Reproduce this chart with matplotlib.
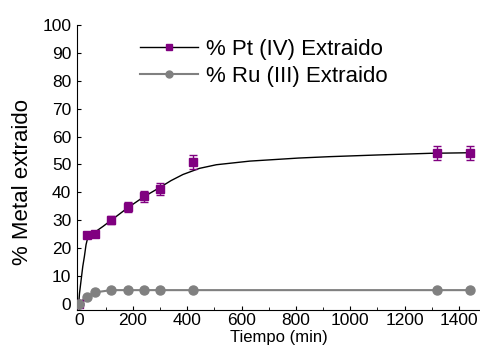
import matplotlib.pyplot as plt
from matplotlib.lines import Line2D

plt.rcParams['font.family'] = ['Liberation Sans', 'DejaVu Sans']

# datos
t_pt = [0, 30, 60, 120, 180, 240, 300, 420, 1320, 1440]
pt = [0, 24.6, 24.9, 30.0, 34.6, 38.5, 41.2, 51.0, 54.0, 54.0]
pt_err = [0, 0.8, 0.8, 1.5, 1.8, 2.0, 2.0, 2.5, 2.5, 2.5]

t_ru = [0, 30, 60, 120, 180, 240, 300, 420, 1320, 1440]
ru = [0, 2.6, 4.1, 4.9, 4.9, 4.9, 4.9, 4.9, 4.9, 4.9]

# curva de ajuste (leida punto a punto)
fit_t = [0, 3, 9, 15, 21, 27, 33, 46, 58, 90, 120, 180, 240, 300, 340, 384,
         445, 507, 630, 810, 925, 1100, 1294, 1440]
fit_y = [0, 3.8, 8.6, 13.4, 17.0, 21.2, 23.6, 24.8, 25.6, 27.8, 30.0, 34.4,
         38.4, 41.8, 44.2, 46.4, 48.6, 49.9, 51.2, 52.3, 52.8, 53.4, 54.0, 54.2]

purple = '#800080'
gray = '#808080'

fig = plt.figure(figsize=(4.8, 3.49), dpi=100)
ax = fig.add_axes([0.160, 0.112, 0.840, 0.816])

ax.plot(fit_t, fit_y, color='black', lw=1.0, zorder=2)
ax.plot(t_ru, ru, color=gray, lw=1.5, marker='o', ms=6.5, mfc=gray, mec=gray, zorder=3)
ax.errorbar(t_pt, pt, yerr=pt_err, fmt='s', color=purple, ms=6, ecolor=purple,
            elinewidth=1, capsize=3, capthick=1, zorder=4)
# el punto t=0 queda tapado por el circulo gris
ax.plot([0], [0], 'o', color=gray, ms=6.5, zorder=5)

ax.set_xlim(-7, 1478)
ax.set_ylim(-2.2, 100)
ax.set_xticks(range(0, 1401, 200))
ax.set_xticks(range(0, 1401, 100), minor=True)
ax.set_yticks(range(0, 101, 10))
ax.tick_params(axis='both', which='both', direction='in', labelsize=12.5)
ax.tick_params(axis='y', pad=4)
ax.tick_params(axis='x', pad=2)
ax.tick_params(which='major', length=3)
ax.tick_params(which='minor', length=2)
for s in ['top', 'right']:
    ax.spines[s].set_visible(False)

ax.set_xlabel('Tiempo (min)', fontsize=12, labelpad=2)
ax.set_ylabel('% Metal extraido', fontsize=16)
ax.yaxis.set_label_coords(-0.109, 0.45)

handles = [
    Line2D([], [], color='black', lw=1, marker='s', ms=5, mfc=purple, mec=purple),
    Line2D([], [], color=gray, lw=1.5, marker='o', ms=5, mfc=gray, mec=gray),
]
ax.legend(handles, ['% Pt (IV) Extraido', '% Ru (III) Extraido'],
          loc='upper left', bbox_to_anchor=(0.292, 0.888),
          bbox_transform=fig.transFigure, frameon=False,
          fontsize=16, handlelength=2.6, handletextpad=0.36, labelspacing=0.25,
          borderaxespad=0, borderpad=0)

fig.savefig('out.png', dpi=100)
